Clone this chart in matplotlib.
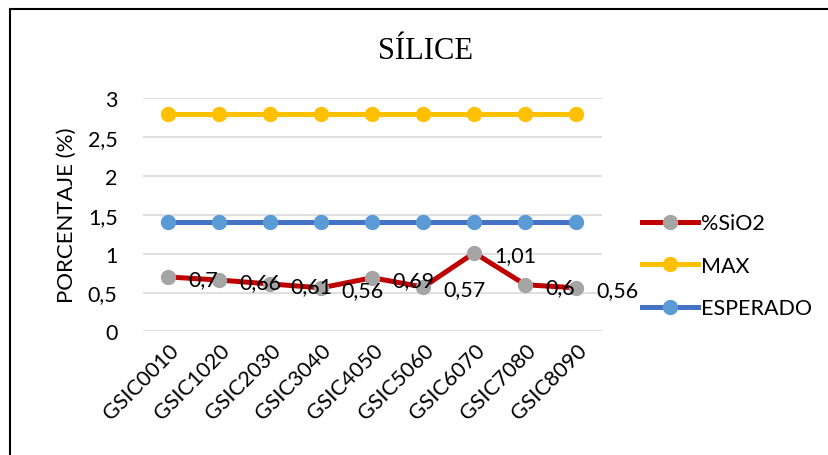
import matplotlib.pyplot as plt
from matplotlib.patches import Rectangle
from matplotlib.ticker import FuncFormatter

muestras = ['GSIC0010', 'GSIC1020', 'GSIC2030', 'GSIC3040', 'GSIC4050',
            'GSIC5060', 'GSIC6070', 'GSIC7080', 'GSIC8090']
sio2 = [0.7, 0.66, 0.61, 0.56, 0.69, 0.57, 1.01, 0.6, 0.56]
maximo = [2.8] * 9
esperado = [1.4] * 9

plt.rcParams['font.family'] = ['Lato', 'DejaVu Sans']

fig = plt.figure(figsize=(8.29, 4.56), dpi=100)
ax = fig.add_axes([0.172, 0.271, 0.554, 0.512])

x = list(range(len(muestras)))
ax.plot(x, sio2, color='#C00000', lw=3.6, marker='o', ms=10,
        mfc='#A5A5A5', mec='#A5A5A5', label='%SiO2', zorder=5)
ax.plot(x, maximo, color='#FFC000', lw=3.6, marker='o', ms=10,
        mfc='#FFC000', mec='#FFC000', label='MAX', zorder=4)
ax.plot(x, esperado, color='#4472C4', lw=3.6, marker='o', ms=10,
        mfc='#5B9BD5', mec='#5B9BD5', label='ESPERADO', zorder=4)

# etiquetas de datos con coma decimal
for i, v in enumerate(sio2):
    ax.annotate(('%g' % v).replace('.', ','), (i, v), xytext=(20, -2),
                textcoords='offset pixels', ha='left', va='center',
                fontsize=15.5, color='black', zorder=6, annotation_clip=False)

ax.set_xlim(-0.5, len(muestras) - 0.5)
ax.set_ylim(0, 3)
ax.set_yticks([0, 0.5, 1, 1.5, 2, 2.5, 3])
ax.yaxis.set_major_formatter(FuncFormatter(lambda v, p: ('%g' % v).replace('.', ',')))
ax.set_xticks(x)
ax.set_xticklabels(muestras, rotation=45, ha='right', va='top', rotation_mode='anchor')
ax.tick_params(axis='both', length=0, labelsize=15.5)
ax.tick_params(axis='y', pad=18)
ax.tick_params(axis='x', pad=6)
ax.grid(axis='y', color='#D9D9D9', lw=1.2)
ax.set_axisbelow(True)
for s in ax.spines.values():
    s.set_visible(False)

ax.set_ylabel('PORCENTAJE (%)', fontsize=16, labelpad=8)

fig.text(0.513, 0.888, 'SÍLICE', fontsize=22, family='Liberation Serif',
         ha='center', va='center')

ax.legend(loc='center left', bbox_to_anchor=(0.762, 0.415),
          bbox_transform=fig.transFigure, frameon=False, fontsize=15.5,
          handlelength=2.6, handletextpad=0.1, labelspacing=1.05,
          borderpad=0)

# marco exterior
fig.patches.append(Rectangle((10 / 829, -0.1), 1.2, 1 - 10 / 456 + 0.1,
                             transform=fig.transFigure, fill=False,
                             edgecolor='black', lw=1.5))

fig.savefig('out.png', dpi=100)
